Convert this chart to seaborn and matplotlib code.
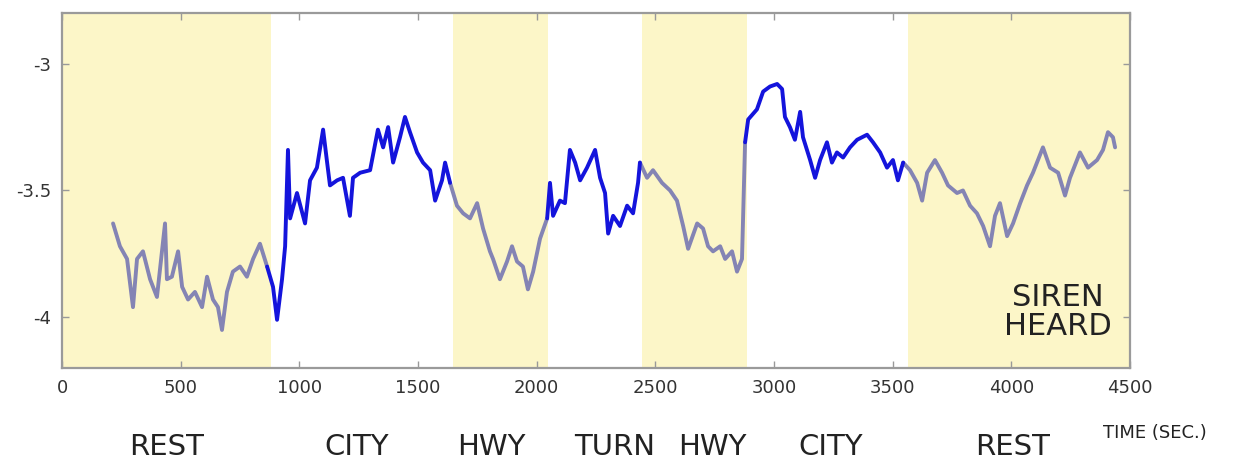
import numpy as np
import pandas as pd
import matplotlib
matplotlib.use('Agg')
import matplotlib.pyplot as plt
import seaborn as sns

# driving phases (seconds)
phase_names = ['REST', 'CITY', 'HWY', 'TURN', 'HWY', 'CITY', 'REST']
phase_start = [0, 880, 1648, 2048, 2444, 2885, 3565]
phase_end = [880, 1648, 2048, 2444, 2885, 3565, 4500]
phase_shaded = [True, False, True, False, True, False, True]
label_pos = [442, 1243, 1808, 2330, 2739, 3240, 4003]

# trace
t = [215, 244, 274, 299, 316, 341, 371, 400, 434, 442, 463, 489, 506, 531, 560,
     590, 611, 636, 657, 674, 695, 720, 750, 779, 805, 834, 864, 889, 906, 927,
     940, 952, 961, 990, 1024, 1045, 1074, 1100, 1117, 1129, 1159, 1184, 1213,
     1226, 1256, 1298, 1331, 1353, 1374, 1395, 1424, 1445, 1466, 1496, 1521,
     1551, 1572, 1601, 1614, 1635, 1664, 1690, 1719, 1749, 1774, 1803, 1816,
     1845, 1875, 1896, 1917, 1942, 1963, 1985, 2014, 2044, 2056, 2069, 2098,
     2119, 2140, 2162, 2183, 2212, 2246, 2267, 2288, 2301, 2322, 2351, 2381,
     2406, 2427, 2435, 2465, 2490, 2528, 2562, 2591, 2617, 2638, 2676, 2701,
     2722, 2743, 2773, 2794, 2823, 2844, 2865, 2878, 2891, 2928, 2954, 2983,
     3013, 3034, 3046, 3067, 3088, 3110, 3122, 3152, 3173, 3194, 3223, 3244,
     3265, 3291, 3320, 3350, 3392, 3417, 3447, 3476, 3501, 3522, 3544, 3573,
     3603, 3624, 3645, 3678, 3708, 3733, 3771, 3796, 3826, 3855, 3881, 3910,
     3931, 3952, 3982, 4007, 4037, 4066, 4091, 4133, 4163, 4197, 4226, 4247,
     4289, 4323, 4361, 4386, 4407, 4428, 4437]
v = [-3.63, -3.72, -3.77, -3.96, -3.77, -3.74, -3.85, -3.92, -3.63, -3.85,
     -3.84, -3.74, -3.88, -3.93, -3.90, -3.96, -3.84, -3.93, -3.96, -4.05,
     -3.90, -3.82, -3.80, -3.84, -3.77, -3.71, -3.80, -3.88, -4.01, -3.85,
     -3.72, -3.34, -3.61, -3.51, -3.63, -3.46, -3.41, -3.26, -3.39, -3.48,
     -3.46, -3.45, -3.60, -3.45, -3.43, -3.42, -3.26, -3.33, -3.25, -3.39,
     -3.29, -3.21, -3.27, -3.35, -3.39, -3.42, -3.54, -3.46, -3.39, -3.47,
     -3.56, -3.59, -3.61, -3.55, -3.65, -3.74, -3.77, -3.85, -3.78, -3.72,
     -3.78, -3.80, -3.89, -3.82, -3.69, -3.61, -3.47, -3.60, -3.54, -3.55,
     -3.34, -3.39, -3.46, -3.41, -3.34, -3.45, -3.51, -3.67, -3.60, -3.64,
     -3.56, -3.59, -3.47, -3.39, -3.45, -3.42, -3.47, -3.50, -3.54, -3.64,
     -3.73, -3.63, -3.65, -3.72, -3.74, -3.72, -3.77, -3.74, -3.82, -3.77,
     -3.31, -3.22, -3.18, -3.11, -3.09, -3.08, -3.10, -3.21, -3.25, -3.30,
     -3.19, -3.29, -3.38, -3.45, -3.38, -3.31, -3.39, -3.35, -3.37, -3.33,
     -3.30, -3.28, -3.31, -3.35, -3.41, -3.38, -3.46, -3.39, -3.42, -3.47,
     -3.54, -3.43, -3.38, -3.43, -3.48, -3.51, -3.50, -3.56, -3.59, -3.64,
     -3.72, -3.60, -3.55, -3.68, -3.63, -3.55, -3.48, -3.43, -3.33, -3.41,
     -3.43, -3.52, -3.45, -3.35, -3.41, -3.38, -3.34, -3.27, -3.29, -3.33]

xticks = [0, 500, 1000, 1500, 2000, 2500, 3000, 3500, 4000, 4500]
yticks = [-4, -3.5, -3]

shade_color = '#fcf6c8'
line_colors = {'active': '#1414dc', 'quiet': '#8484b4'}

# split the trace by phase, boundary points go in both neighbours
rows = []
t_arr = np.array(t)
v_arr = np.array(v)
for i in range(len(phase_names)):
    m = (t_arr >= phase_start[i]) & (t_arr <= phase_end[i])
    idx = np.where(m)[0]
    if len(idx) == 0:
        continue
    if idx[0] > 0:
        idx = np.r_[idx[0] - 1, idx]
    kind = 'quiet' if phase_shaded[i] else 'active'
    for j in idx:
        rows.append({'t': t_arr[j], 'v': v_arr[j], 'kind': kind, 'seg': i})
df = pd.DataFrame(rows)

sns.set_theme(style='white')
plt.rcParams['font.family'] = ['DejaVu Sans']

fig = plt.figure(figsize=(12.38, 4.62), dpi=100)
ax = fig.add_axes([0.0501, 0.2035, 0.8627, 0.7684])

for i in range(len(phase_names)):
    if phase_shaded[i]:
        ax.axvspan(phase_start[i], phase_end[i], color=shade_color, lw=0, zorder=0)

sns.lineplot(data=df, x='t', y='v', hue='kind', units='seg', estimator=None,
             palette=line_colors, linewidth=2.8, legend=False, ax=ax, zorder=3)

ax.set_xlim(0, 4500)
ax.set_ylim(-4.2, -2.8)
ax.set_xticks(xticks)
ax.set_yticks(yticks)
ax.set_yticklabels(['-4', '-3.5', '-3'])
ax.set_xlabel('')
ax.set_ylabel('')
ax.tick_params(axis='both', direction='in', length=5, width=1, color='#999999',
               labelcolor='#333333', labelsize=13, top=True, right=True,
               bottom=True, left=True, pad=8)
for s in ax.spines.values():
    s.set_color('#9a9a9a')
    s.set_linewidth(1.6)

# phase names under the axis
for i in range(len(phase_names)):
    ax.text(label_pos[i], -0.222, phase_names[i], transform=ax.get_xaxis_transform(),
            ha='center', va='center', fontsize=21, color='#222222')

ax.text(4605, -0.183, 'TIME (SEC.)', transform=ax.get_xaxis_transform(),
        ha='center', va='center', fontsize=13, color='#222222')

ax.text(4195, -3.98, 'SIREN\nHEARD', ha='center', va='center', fontsize=22,
        color='#222222', linespacing=1.0)

fig.savefig('out.png', dpi=100)
